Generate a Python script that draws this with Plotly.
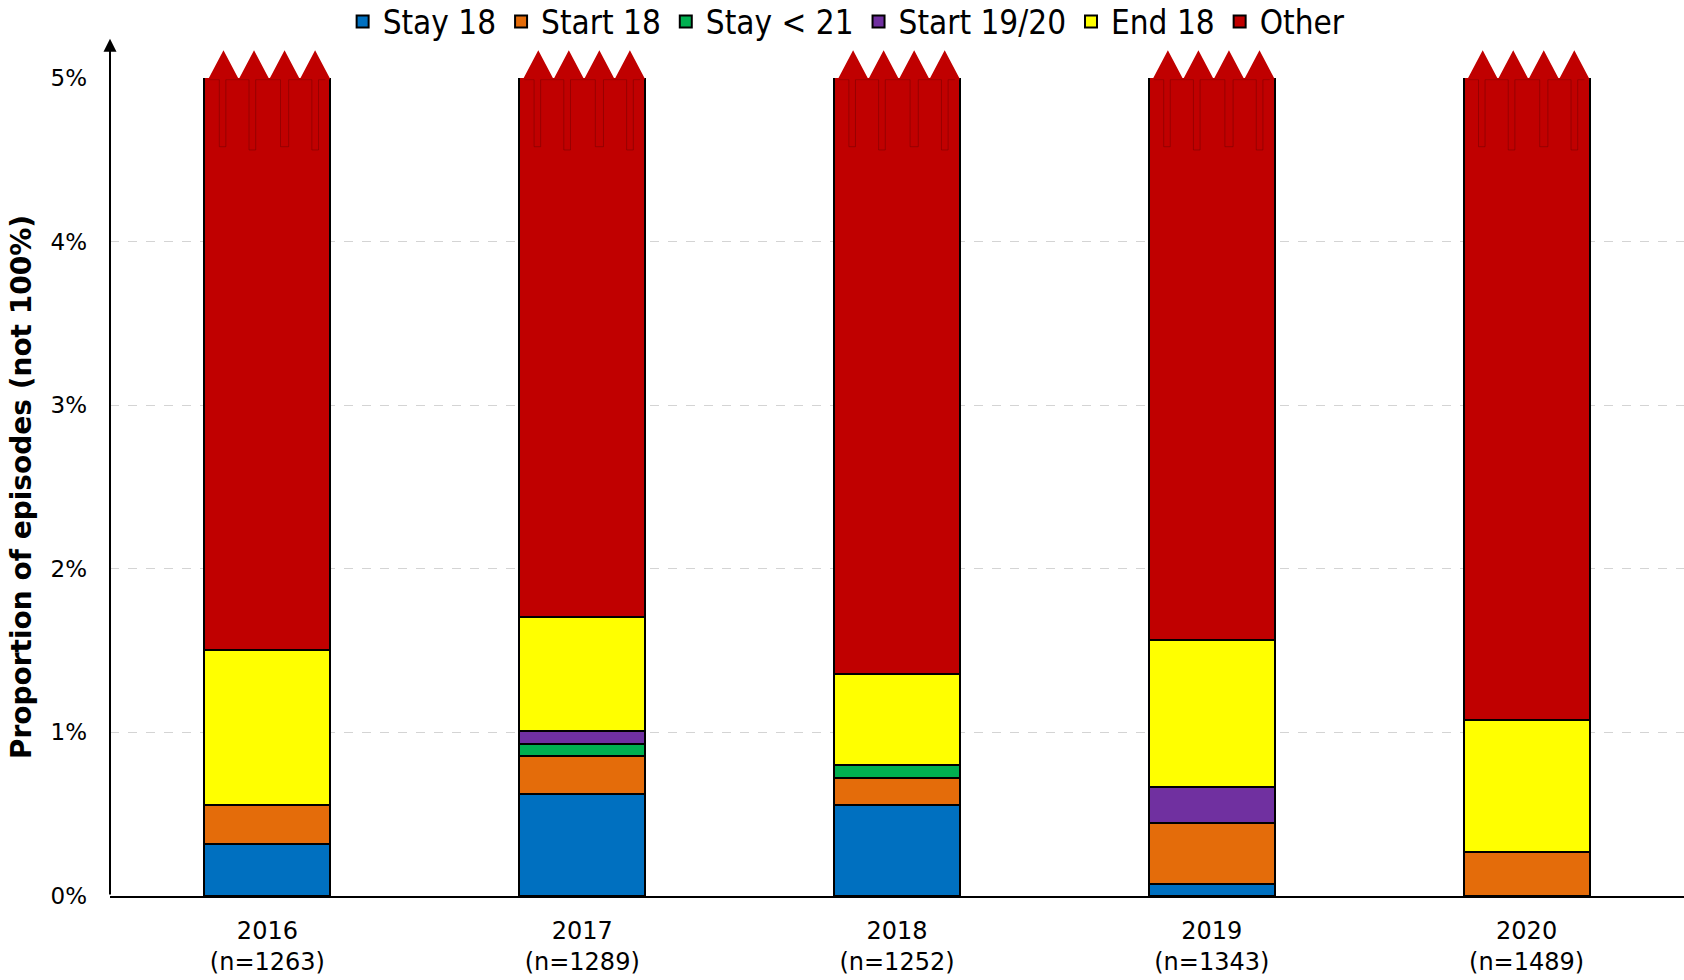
import plotly.graph_objects as go

# Share of care episodes by outcome group, per year (percent of all episodes)
years = ["2016", "2017", "2018", "2019", "2020"]
episodes_n = [1263, 1289, 1252, 1343, 1489]

stay_18 = [0.317, 0.621, 0.559, 0.074, 0.0]
start_18 = [0.238, 0.233, 0.160, 0.372, 0.269]
stay_under_21 = [0.0, 0.078, 0.080, 0.0, 0.0]
start_19_20 = [0.0, 0.078, 0.0, 0.223, 0.0]
end_18 = [0.950, 0.698, 0.559, 0.894, 0.806]
other = [98.495, 98.292, 98.642, 98.437, 98.925]

series_names = ["Stay 18", "Start 18", "Stay &lt; 21", "Start 19/20", "End 18", "Other"]
series_values = [stay_18, start_18, stay_under_21, start_19_20, end_18, other]
series_colors = ["#0070C0", "#E46C0A", "#00B050", "#7030A0", "#FFFF00", "#C00000"]

tick_labels = [f"{y}<br>(n={n})" for y, n in zip(years, episodes_n)]
y_ticks = [0, 1, 2, 3, 4, 5]
y_tick_labels = [f"{v}%" for v in y_ticks]

Y_MAX = 5
X_RANGE = [-0.5, 4.5]
BAR_W = 0.40
x_pos = list(range(len(years)))

fig = go.Figure()

for name, vals, col in zip(series_names, series_values, series_colors):
    fig.add_trace(go.Bar(
        x=x_pos,
        y=[v if v > 0 else None for v in vals],
        name=name,
        width=BAR_W,
        marker=dict(color=col, line=dict(color="black", width=2)),
    ))


def px(xv):
    return (xv - X_RANGE[0]) / (X_RANGE[1] - X_RANGE[0])


def py(yv):
    return yv / Y_MAX


# Faint fold lines inside the torn top of each truncated "Other" bar
fold_frac = [0.04, 0.118, 0.118, 0.17, 0.17, 0.354, 0.354, 0.407, 0.407,
             0.604, 0.604, 0.669, 0.669, 0.853, 0.853, 0.906, 0.906, 0.96]
fold_lvl = [4.99, 4.99, 4.58, 4.58, 4.99, 4.99, 4.56, 4.56, 4.99,
            4.99, 4.58, 4.58, 4.99, 4.99, 4.56, 4.56, 4.99, 4.99]
wx, wy = [], []
for i in x_pos:
    left = i - BAR_W / 2
    wx += [left + f * BAR_W for f in fold_frac] + [None]
    wy += fold_lvl + [None]
fig.add_trace(go.Scatter(
    x=wx, y=wy, mode="lines", showlegend=False, hoverinfo="skip",
    line=dict(color="rgba(90,0,0,0.4)", width=1),
))

# Broken-axis zigzag above each truncated bar (paper coords so it is not clipped)
teeth = 4
tooth_h = 0.17
for i in x_pos:
    start = i - BAR_W / 2 + 0.03 * BAR_W
    end = i + BAR_W / 2
    step = (end - start) / teeth
    pts = []
    for k in range(teeth):
        a = start + k * step
        pts += [(a, Y_MAX - 0.008), (a + step / 2, Y_MAX + tooth_h), (a + step, Y_MAX - 0.008)]
    path = "M " + " L ".join(f"{px(x):.5f},{py(y):.5f}" for x, y in pts) + " Z"
    fig.add_shape(type="path", path=path, xref="paper", yref="paper",
                  fillcolor="#C00000", line=dict(width=0), layer="above")

# Vertical axis drawn as an arrow
fig.add_annotation(
    x=-0.5, y=5.24, ax=-0.5, ay=0, xref="x", yref="y", axref="x", ayref="y",
    text="", showarrow=True, arrowhead=2, arrowsize=1.3, arrowwidth=2,
    arrowcolor="black", standoff=0, startstandoff=0,
)

fig.update_layout(
    width=1684, height=980,
    margin=dict(l=110, r=0, t=78, b=84, autoexpand=False),
    barmode="stack",
    plot_bgcolor="white", paper_bgcolor="white",
    font=dict(family="DejaVu Sans", color="black"),
    legend=dict(
        orientation="h", x=0.468, xanchor="center", y=1.069, yanchor="middle",
        font=dict(family="DejaVu Sans Condensed, Liberation Sans", size=33, color="black"),
        traceorder="normal", itemwidth=30,
    ),
    xaxis=dict(
        range=X_RANGE, tickvals=x_pos, ticktext=tick_labels,
        showgrid=False, zeroline=False, showline=True,
        linecolor="black", linewidth=2, ticks="",
        ticklabelstandoff=12,
        tickfont=dict(size=24, family="DejaVu Sans"),
    ),
    yaxis=dict(
        range=[0, Y_MAX], tickmode="array", tickvals=y_ticks, ticktext=y_tick_labels,
        showgrid=True, gridcolor="#d4d4d4", griddash="dash", gridwidth=1,
        zeroline=False, showline=False, ticks="",
        ticklabelstandoff=22,
        tickfont=dict(size=23, family="DejaVu Sans"),
        title=dict(text="<b>Proportion of episodes (not 100%)</b>",
                   font=dict(size=28, family="DejaVu Sans"), standoff=10),
    ),
)

fig.write_html("out.html")
